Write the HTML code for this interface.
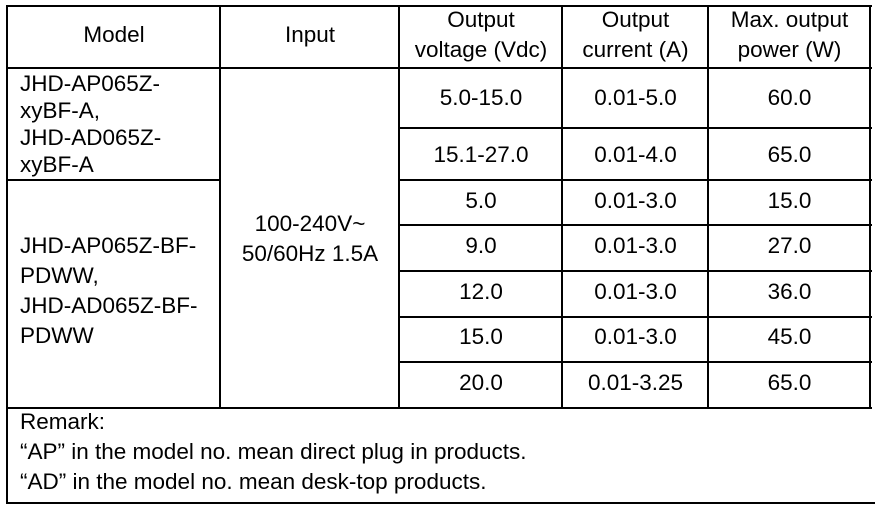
<!DOCTYPE html>
<html><head><style>
body{margin:0;width:875px;height:505px;background:#fff;position:relative;overflow:hidden;font-family:"Liberation Sans",Arial,sans-serif;font-size:22.5px;color:#000}
.h{position:absolute;height:2px;background:#000}
.v{position:absolute;width:2px;background:#000}
.t{position:absolute;text-align:center;line-height:28px;white-space:nowrap}
.l{position:absolute;line-height:30px;white-space:nowrap;left:20px}
</style></head><body>
<div class="h" style="left:6px;width:866px;top:5px"></div>
<div class="h" style="left:6px;width:866px;top:67px"></div>
<div class="h" style="left:6px;width:214px;top:179px"></div>
<div class="h" style="left:399px;width:473px;top:127px"></div>
<div class="h" style="left:399px;width:473px;top:179px"></div>
<div class="h" style="left:399px;width:473px;top:224px"></div>
<div class="h" style="left:399px;width:473px;top:270px"></div>
<div class="h" style="left:399px;width:473px;top:316px"></div>
<div class="h" style="left:399px;width:473px;top:361px"></div>
<div class="h" style="left:6px;width:866px;top:407px"></div>
<div class="h" style="left:6px;width:869px;top:502px"></div>
<div class="v" style="left:6px;top:5px;height:499px"></div>
<div class="v" style="left:219px;top:5px;height:404px"></div>
<div class="v" style="left:398px;top:5px;height:404px"></div>
<div class="v" style="left:561px;top:5px;height:404px"></div>
<div class="v" style="left:707px;top:5px;height:404px"></div>
<div class="v" style="left:869px;top:5px;height:404px"></div>
<div class="t" style="left:8px;width:212px;top:21px">Model</div>
<div class="t" style="left:221px;width:178px;top:21px">Input</div>
<div class="t" style="left:400px;width:162px;top:5px;line-height:30px">Output<br>voltage (Vdc)</div>
<div class="t" style="left:563px;width:145px;top:5px;line-height:30px">Output<br>current (A)</div>
<div class="t" style="left:709px;width:161px;top:5px;line-height:30px">Max. output<br>power (W)</div>
<div class="l" style="top:70px;line-height:27px">JHD-AP065Z-<br>xyBF-A,<br>JHD-AD065Z-<br>xyBF-A</div>
<div class="l" style="top:231px;line-height:30px">JHD-AP065Z-BF-<br>PDWW,<br>JHD-AD065Z-BF-<br>PDWW</div>
<div class="t" style="left:221px;width:178px;top:209px;line-height:30px">100-240V~<br>50/60Hz 1.5A</div>
<div class="t" style="left:400px;width:162px;top:84px">5.0-15.0</div>
<div class="t" style="left:563px;width:145px;top:84px">0.01-5.0</div>
<div class="t" style="left:709px;width:161px;top:84px">60.0</div>
<div class="t" style="left:400px;width:162px;top:141px">15.1-27.0</div>
<div class="t" style="left:563px;width:145px;top:141px">0.01-4.0</div>
<div class="t" style="left:709px;width:161px;top:141px">65.0</div>
<div class="t" style="left:400px;width:162px;top:187px">5.0</div>
<div class="t" style="left:563px;width:145px;top:187px">0.01-3.0</div>
<div class="t" style="left:709px;width:161px;top:187px">15.0</div>
<div class="t" style="left:400px;width:162px;top:232px">9.0</div>
<div class="t" style="left:563px;width:145px;top:232px">0.01-3.0</div>
<div class="t" style="left:709px;width:161px;top:232px">27.0</div>
<div class="t" style="left:400px;width:162px;top:278px">12.0</div>
<div class="t" style="left:563px;width:145px;top:278px">0.01-3.0</div>
<div class="t" style="left:709px;width:161px;top:278px">36.0</div>
<div class="t" style="left:400px;width:162px;top:323px">15.0</div>
<div class="t" style="left:563px;width:145px;top:323px">0.01-3.0</div>
<div class="t" style="left:709px;width:161px;top:323px">45.0</div>
<div class="t" style="left:400px;width:162px;top:369px">20.0</div>
<div class="t" style="left:563px;width:145px;top:369px">0.01-3.25</div>
<div class="t" style="left:709px;width:161px;top:369px">65.0</div>
<div class="l" style="top:407px">Remark:<br>“AP” in the model no. mean direct plug in products.<br>“AD” in the model no. mean desk-top products.</div>
</body></html>
